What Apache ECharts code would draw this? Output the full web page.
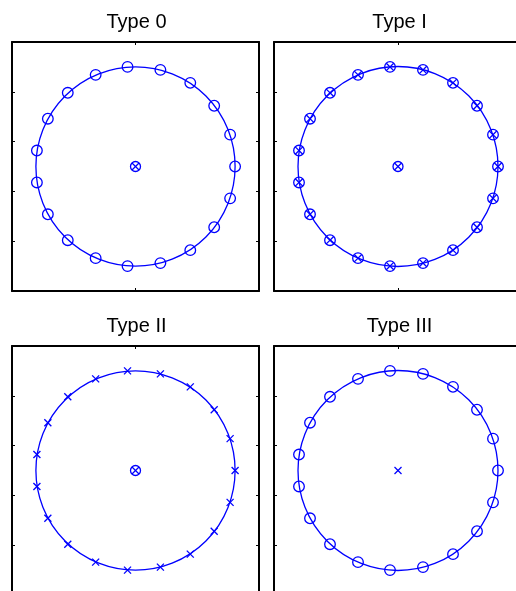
<!DOCTYPE html>
<html>
<head>
<meta charset="utf-8">
<script src="https://cdn.jsdelivr.net/npm/echarts@6/dist/echarts.min.js"></script>
<style>
  html, body { margin: 0; padding: 0; background: #fff; }
  #chart { width: 516px; height: 591px; }
</style>
</head>
<body>
<div id="chart"></div>
<script>
// panel titles and what sits on the ring / at the centre
const titles = ['Type 0', 'Type I', 'Type II', 'Type III'];
const ringMarker = ['o', 'ox', 'x', 'o'];
const centerMarker = ['ox', 'ox', 'ox', 'x'];

// roots on the unit circle
const rootRe = [1.00, 0.95, 0.79, 0.55, 0.25, -0.08, -0.40, -0.68, -0.88, -0.99,
  -0.99, -0.88, -0.68, -0.40, -0.08, 0.25, 0.55, 0.79, 0.95];
const rootIm = [0.00, 0.32, 0.61, 0.84, 0.97, 1.00, 0.92, 0.74, 0.48, 0.16,
  -0.16, -0.48, -0.74, -0.92, -1.00, -0.97, -0.84, -0.61, -0.32];
const centerPt = [0, 0];
const unitRadius = 1;

// tick positions
const xTicks = [0];
const yTicks = [-0.75, -0.25, 0.25, 0.75];

const BLUE = '#0000ff';
const FONT = '"Liberation Sans", Arial, Helvetica, sans-serif';

const grids = [
  { left: 12, top: 42, width: 247, height: 249 },
  { left: 274, top: 42, width: 248, height: 249 },
  { left: 12, top: 346, width: 247, height: 249 },
  { left: 274, top: 346, width: 248, height: 249 },
].map((g) => Object.assign({ outerBoundsMode: 'none', containLabel: false }, g));
const titlePos = [[136.5, 22], [399.5, 22], [136.5, 326], [399.5, 326]];

function markerItem(type, c, r) {
  const children = [];
  const lw = 1.3;
  if (type === 'o' || type === 'ox') {
    children.push({
      type: 'circle',
      shape: { cx: c[0], cy: c[1], r: r },
      style: { fill: 'none', stroke: BLUE, lineWidth: lw },
    });
  }
  if (type === 'x' || type === 'ox') {
    const h = type === 'x' ? 3.5 : r * 0.7;
    children.push({
      type: 'line',
      shape: { x1: c[0] - h, y1: c[1] - h, x2: c[0] + h, y2: c[1] + h },
      style: { stroke: BLUE, lineWidth: lw },
    });
    children.push({
      type: 'line',
      shape: { x1: c[0] - h, y1: c[1] + h, x2: c[0] + h, y2: c[1] - h },
      style: { stroke: BLUE, lineWidth: lw },
    });
  }
  return { type: 'group', children: children };
}

const xAxis = [];
const yAxis = [];
const series = [];
const graphic = [];

grids.forEach((g, i) => {
  ['bottom', 'top'].forEach((pos) => {
    xAxis.push({
      gridIndex: i,
      type: 'value',
      position: pos,
      min: -1.24,
      max: 1.24,
      axisLine: { show: true, onZero: false, lineStyle: { color: '#000', width: 2 } },
      axisTick: { show: true, inside: true, length: 3, customValues: xTicks, lineStyle: { color: '#000', width: 1 } },
      axisLabel: { show: false },
      splitLine: { show: false },
    });
  });
  ['left', 'right'].forEach((pos) => {
    yAxis.push({
      gridIndex: i,
      type: 'value',
      position: pos,
      min: -1.25,
      max: 1.25,
      axisLine: { show: true, onZero: false, lineStyle: { color: '#000', width: 2 } },
      axisTick: { show: true, inside: true, length: 3, customValues: yTicks, lineStyle: { color: '#000', width: 1 } },
      axisLabel: { show: false },
      splitLine: { show: false },
    });
  });

  // unit circle
  series.push({
    type: 'custom',
    xAxisIndex: 2 * i,
    yAxisIndex: 2 * i,
    data: [[centerPt[0], centerPt[1], unitRadius]],
    renderItem: (params, api) => {
      const c = api.coord([api.value(0), api.value(1)]);
      const s = api.size([api.value(2), api.value(2)]);
      return {
        type: 'circle',
        shape: { cx: c[0], cy: c[1], r: s[0] },
        style: { fill: 'none', stroke: BLUE, lineWidth: 1.3 },
      };
    },
  });

  // roots on the ring
  series.push({
    type: 'custom',
    xAxisIndex: 2 * i,
    yAxisIndex: 2 * i,
    data: rootRe.map((re, k) => [re, rootIm[k]]),
    renderItem: (params, api) => {
      const c = api.coord([api.value(0), api.value(1)]);
      return markerItem(ringMarker[i], c, 5.3);
    },
  });

  // centre marker
  series.push({
    type: 'custom',
    xAxisIndex: 2 * i,
    yAxisIndex: 2 * i,
    data: [centerPt],
    renderItem: (params, api) => {
      const c = api.coord([api.value(0), api.value(1)]);
      return markerItem(centerMarker[i], c, 5);
    },
  });

  graphic.push({
    type: 'text',
    x: titlePos[i][0],
    y: titlePos[i][1],
    style: {
      text: titles[i],
      font: '20px ' + FONT,
      fill: '#000',
      textAlign: 'center',
      textVerticalAlign: 'middle',
    },
  });
});

const chart = echarts.init(document.getElementById('chart'), null, { renderer: 'canvas' });
chart.setOption({
  animation: false,
  backgroundColor: '#fff',
  grid: grids,
  xAxis: xAxis,
  yAxis: yAxis,
  series: series,
  graphic: graphic,
});
</script>
</body>
</html>
